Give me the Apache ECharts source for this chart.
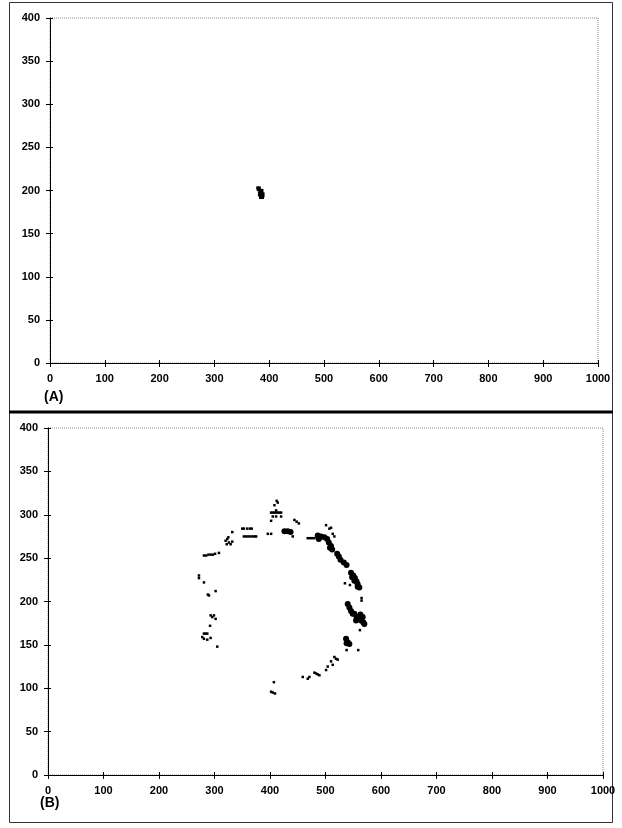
<!DOCTYPE html>
<html>
<head>
<meta charset="utf-8">
<script src="https://cdn.jsdelivr.net/npm/echarts@6/dist/echarts.min.js"></script>
<style>
html,body{margin:0;padding:0;background:#fff;}
#chart{width:622px;height:828px;}
</style>
</head>
<body>
<div id="chart"></div>
<script>
// ---- data (x: 0-1000, y: 0-400) ----
var xTicks = [0,100,200,300,400,500,600,700,800,900,1000];
var yTicks = [0,50,100,150,200,250,300,350,400];
var panelLabels = ['(A)', '(B)'];

// Panel A: a single small cluster
var dotsA = [[379,203],[382,203],[380,201]];
var blobsA = [[385,199],[387,195],[384,196],[386,193]];

// Panel B: ring of scattered marks
var dotsB = [
  [408,311],[411,305],[414,314],[412,316],
  [402,302.5],[405,302.5],[408,302.5],[411,302.5],[414,302.5],[417,302.5],[420,302.5],
  [405,298],[411,298],[420,298],[402,293],
  [444,294],[448,292],[452,290],
  [350,284],[353,284],[359,284],[364,284],[367,284],
  [332,280],
  [353,275],[357,275],[361,275],[365,275],[369,275],[373,275],[375,275],
  [396,278],[402,278],
  [320,270],[323,272],[326,268],[329,266],[332,269],[325,274],[322,266],
  [281,253],[285,253],[289,254],[293,254],[297,254],[301,255],[308,256],
  [272,230],[272,227],[281,222],[302,212],[288,208],[290,207],
  [293,184],[296,182],[299,184],[302,180],[292,172],
  [281,163],[284,163],[287,163],[278,159],[281,157],[287,156],[293,158],[305,148],
  [407,107],[402,96],[405,95],[409,94],
  [459,113],[468,111],[471,113],[480,118],[483,117],[486,116],[489,115],
  [501,121],[504,125],[510,131],[513,127],[516,136],[519,134],[522,133],
  [538,144],[559,144],[562,167],
  [441,275],[468,273],[472,273],[476,273],[480,273],
  [501,288],[507,284],[510,285],[513,278],[516,275],
  [535,221],[544,219],[565,204],[565,201]
];
var blobsB = [
  [426,281],[432,281],[437,280],
  [486,276],[492,275],[498,274],[503,272],[488,272],
  [506,268],[510,264],[512,260],[508,262],
  [521,255],[524,252],[527,248],
  [533,245],[538,242],
  [546,233],[550,230],[553,227],[556,223],[552,224],[548,228],[558,220],
  [558,217],[561,216],
  [540,197],[543,193],[546,189],[549,186],
  [552,186],[556,182],[560,180],[564,178],[568,176],[567,182],[563,185],[555,178],[570,174],
  [537,157],[540,153],[543,151],[538,152]
];

// ---- chart ----
var FONT = 'Liberation Sans';
var labelStyle = {color: '#000', fontFamily: FONT, fontSize: 11, fontWeight: 'bold'};
function xAx(gi, inner){
  return {
    gridIndex: gi, type: 'value', position: 'bottom', offset: 0,
    min: xTicks[0], max: xTicks[xTicks.length-1], interval: 100,
    axisLine: {show: !inner, onZero: false, lineStyle: {color: '#000', width: 1}},
    axisTick: {show: true, inside: !!inner, length: inner ? 3 : 4, lineStyle: {color: '#000'}},
    axisLabel: inner ? {show: false} : Object.assign({margin: 10, formatter: function(v){ return String(v); }}, labelStyle),
    splitLine: {show: false}
  };
}
function yAx(gi, inner){
  return {
    gridIndex: gi, type: 'value', position: 'left', offset: 0,
    min: yTicks[0], max: yTicks[yTicks.length-1], interval: 50,
    axisLine: {show: !inner, onZero: false, lineStyle: {color: '#000', width: 1}},
    axisTick: {show: true, inside: !!inner, length: inner ? 3 : 4, lineStyle: {color: '#000'}},
    axisLabel: inner ? {show: false} : Object.assign({margin: 10, formatter: function(v){ return String(v); }}, labelStyle),
    splitLine: {show: false}
  };
}
var chart = echarts.init(document.getElementById('chart'), null, {renderer: 'canvas'});
var markStyle = {color: '#000', opacity: 1};
chart.setOption({
  animation: false,
  backgroundColor: '#fff',
  grid: [
    {left: 50, right: 24, top: 18, bottom: 465, show: true, borderColor: '#888', borderWidth: 1, borderType: 'dotted', backgroundColor: 'transparent'},
    {left: 48, right: 19, top: 428, bottom: 53, show: true, borderColor: '#888', borderWidth: 1, borderType: 'dotted', backgroundColor: 'transparent'}
  ],
  xAxis: [xAx(0), xAx(1), xAx(0, true), xAx(1, true)],
  yAxis: [yAx(0), yAx(1), yAx(0, true), yAx(1, true)],
  graphic: [
    {type: 'rect', shape: {x: 9.5, y: 2.5, width: 603, height: 820}, style: {fill: 'none', stroke: '#333', lineWidth: 1}, z: 0},
    {type: 'line', shape: {x1: 9, y1: 412, x2: 613, y2: 412}, style: {stroke: '#000', lineWidth: 3}},
    {type: 'text', left: 44, top: 390, style: {text: panelLabels[0], fill: '#000', font: 'bold 14px "Liberation Sans"'}},
    {type: 'text', left: 40, top: 796, style: {text: panelLabels[1], fill: '#000', font: 'bold 14px "Liberation Sans"'}}
  ],
  series: [
    {type: 'scatter', xAxisIndex: 0, yAxisIndex: 0, data: dotsA, symbol: 'rect', symbolSize: 3, itemStyle: markStyle},
    {type: 'scatter', xAxisIndex: 0, yAxisIndex: 0, data: blobsA, symbol: 'rect', symbolSize: 5, itemStyle: markStyle},
    {type: 'scatter', xAxisIndex: 1, yAxisIndex: 1, data: dotsB, symbol: 'rect', symbolSize: 2.5, itemStyle: markStyle},
    {type: 'scatter', xAxisIndex: 1, yAxisIndex: 1, data: blobsB, symbol: 'circle', symbolSize: 6, itemStyle: markStyle}
  ]
});
</script>
</body>
</html>
